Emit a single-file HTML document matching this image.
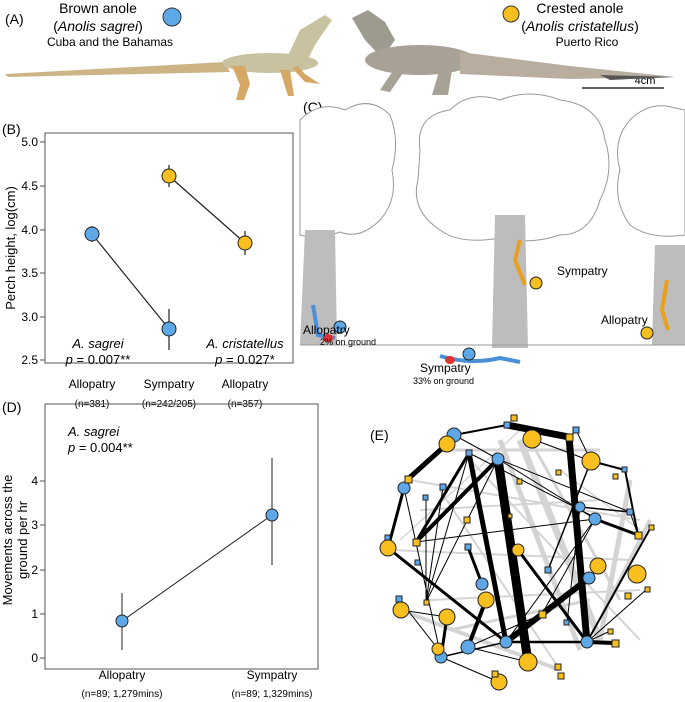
<!DOCTYPE html><html><head><style>body{margin:0;background:#fff}svg{display:block;font-family:"Liberation Sans",sans-serif}</style></head><body>
<svg width="685" height="702" viewBox="0 0 685 702" xmlns="http://www.w3.org/2000/svg">
<!-- Panel A -->
<text x="5" y="24" font-size="14">(A)</text>
<text x="98" y="13" font-size="14" text-anchor="middle">Brown anole</text>
<text x="98" y="31" font-size="14" text-anchor="middle">(<tspan font-style="italic">Anolis sagrei</tspan>)</text>
<text x="110" y="46" font-size="12" text-anchor="middle">Cuba and the Bahamas</text>
<circle cx="172" cy="17" r="9" fill="#5fa8e8" stroke="#333"/>
<circle cx="511" cy="14" r="8" fill="#f8bf1e" stroke="#333"/>
<text x="580" y="13" font-size="14" text-anchor="middle">Crested anole</text>
<text x="580" y="31" font-size="14" text-anchor="middle">(<tspan font-style="italic">Anolis cristatellus</tspan>)</text>
<text x="587" y="46" font-size="12" text-anchor="middle">Puerto Rico</text>
<line x1="582" y1="88" x2="664" y2="88" stroke="#000" stroke-width="1.2"/>
<text x="645" y="84" font-size="11" text-anchor="middle">4cm</text>
<!-- left lizard -->
<g>
<path d="M5 74 L225 62 L230 72 L8 77 Z" fill="#cdb487"/>
<ellipse cx="270" cy="63" rx="48" ry="10" fill="#c8c2a0"/>
<path d="M285 62 L300 30 L325 15 L332 20 L315 45 L305 65 Z" fill="#c8c2a0"/>
<path d="M232 66 L240 85 L236 100 L244 100 L250 84 L245 66Z" fill="#d6a866"/>
<path d="M292 68 L305 82 L320 84 L305 74 L298 66Z" fill="#d6a866"/>
<path d="M280 70 L288 96 L294 96 L290 70Z" fill="#d6a866"/>
</g>
<!-- right lizard -->
<g>
<path d="M352 18 L368 10 L385 22 L395 40 L382 58 L365 40 Z" fill="#9d9a90"/>
<ellipse cx="420" cy="60" rx="55" ry="15" fill="#a8a196"/>
<path d="M460 52 L570 66 L675 77 L570 79 L460 74 Z" fill="#b9ada0"/>
<path d="M600 75 L675 77 L610 80Z" fill="#555"/>
<path d="M395 68 L380 90 L390 92 L405 70Z" fill="#a8a196"/>
<path d="M440 68 L432 95 L448 95 L452 70Z" fill="#a8a196"/>
</g>
<!-- Panel B -->
<text x="2" y="134" font-size="14">(B)</text>
<rect x="45" y="133" width="248" height="230" fill="none" stroke="#555"/>
<g font-size="12" text-anchor="end">
<text x="38" y="146">5.0</text><text x="38" y="190">4.5</text><text x="38" y="234">4.0</text><text x="38" y="277">3.5</text><text x="38" y="321">3.0</text><text x="38" y="364">2.5</text></g>
<g stroke="#555"><line x1="40" y1="142" x2="45" y2="142"/><line x1="40" y1="186" x2="45" y2="186"/><line x1="40" y1="230" x2="45" y2="230"/><line x1="40" y1="273" x2="45" y2="273"/><line x1="40" y1="317" x2="45" y2="317"/><line x1="40" y1="360" x2="45" y2="360"/></g>
<text transform="translate(15,248) rotate(-90)" font-size="13" text-anchor="middle">Perch height, log(cm)</text>
<g stroke="#222" stroke-width="1.2">
<line x1="92" y1="234" x2="169" y2="329"/><line x1="169" y1="176" x2="245" y2="243"/>
<line x1="92" y1="226" x2="92" y2="242"/><line x1="169" y1="309" x2="169" y2="350"/>
<line x1="169" y1="165" x2="169" y2="187"/><line x1="245" y1="231" x2="245" y2="255"/></g>
<circle cx="92" cy="234" r="7" fill="#5fa8e8" stroke="#222"/>
<circle cx="169" cy="329" r="7" fill="#5fa8e8" stroke="#222"/>
<circle cx="169" cy="176" r="7" fill="#f8bf1e" stroke="#222"/>
<circle cx="245" cy="243" r="7" fill="#f8bf1e" stroke="#222"/>
<text x="98" y="348" font-size="13" font-style="italic" text-anchor="middle">A. sagrei</text>
<text x="98" y="364" font-size="13" text-anchor="middle"><tspan font-style="italic">p</tspan> = 0.007**</text>
<text x="245" y="348" font-size="13" font-style="italic" text-anchor="middle">A. cristatellus</text>
<text x="245" y="364" font-size="13" text-anchor="middle"><tspan font-style="italic">p</tspan> = 0.027*</text>
<g font-size="12" text-anchor="middle"><text x="92" y="388">Allopatry</text><text x="169" y="388">Sympatry</text><text x="245" y="388">Allopatry</text></g>
<g font-size="10" text-anchor="middle"><text x="92" y="407">(n=381)</text><text x="169" y="407">(n=242/205)</text><text x="245" y="407">(n=357)</text></g>
<!-- Panel C -->
<text x="303" y="112" font-size="14">(C)</text>
<g fill="#fff" stroke="#999" stroke-width="1">
<path d="M300 120 Q320 100 345 110 Q370 95 390 115 Q400 140 392 170 Q398 200 380 220 Q360 240 340 232 Q320 240 300 235 Z"/>
<path d="M420 150 Q415 115 450 110 Q470 90 500 100 Q530 88 560 100 Q600 105 605 140 Q615 170 600 200 Q590 235 560 235 Q530 245 500 238 Q460 245 440 230 Q410 210 418 180 Z"/>
<path d="M630 120 Q650 100 675 108 L685 110 L685 235 Q650 240 630 225 Q612 200 620 170 Q612 140 630 120Z"/>
</g>
<g fill="#bdbdbd">
<path d="M305 230 L335 230 L337 345 L300 345 Z"/>
<path d="M495 215 L525 215 L528 348 L492 348 Z"/>
<path d="M655 245 L685 245 L685 345 L652 345 Z"/>
</g>
<line x1="300" y1="345" x2="685" y2="345" stroke="#999"/>
<path d="M313 305 L318 335 L335 338" stroke="#4a8fd8" stroke-width="4" fill="none"/>
<ellipse cx="328" cy="338" rx="5" ry="4" fill="#d33"/>
<path d="M440 356 Q470 365 500 358 L520 362" stroke="#4a8fd8" stroke-width="4" fill="none"/>
<ellipse cx="450" cy="360" rx="5" ry="4" fill="#d33"/>
<path d="M520 240 L515 260 L525 285" stroke="#e8a020" stroke-width="4" fill="none"/>
<path d="M667 280 L662 310 L668 330" stroke="#e8a020" stroke-width="4" fill="none"/>
<circle cx="340" cy="327" r="6" fill="#5fa8e8" stroke="#222"/>
<circle cx="469" cy="354" r="6" fill="#5fa8e8" stroke="#222"/>
<circle cx="536" cy="283" r="6" fill="#f8bf1e" stroke="#222"/>
<circle cx="647" cy="333" r="6" fill="#f8bf1e" stroke="#222"/>
<text x="303" y="334" font-size="12">Allopatry</text>
<text x="320" y="345" font-size="9">2% on ground</text>
<text x="557" y="275" font-size="12">Sympatry</text>
<text x="420" y="372" font-size="12">Sympatry</text>
<text x="413" y="384" font-size="9">33% on ground</text>
<text x="601" y="324" font-size="12">Allopatry</text>
<!-- Panel D -->
<text x="2" y="412" font-size="14">(D)</text>
<rect x="45" y="404" width="273" height="265" fill="none" stroke="#555"/>
<g font-size="12" text-anchor="end"><text x="38" y="485">4</text><text x="38" y="529">3</text><text x="38" y="574">2</text><text x="38" y="618">1</text><text x="38" y="662">0</text></g>
<g stroke="#555"><line x1="40" y1="481" x2="45" y2="481"/><line x1="40" y1="525" x2="45" y2="525"/><line x1="40" y1="570" x2="45" y2="570"/><line x1="40" y1="614" x2="45" y2="614"/><line x1="40" y1="658" x2="45" y2="658"/></g>
<text transform="translate(12,540) rotate(-90)" font-size="13" text-anchor="middle">Movements across the</text>
<text transform="translate(27,540) rotate(-90)" font-size="13" text-anchor="middle">ground per hr</text>
<text x="68" y="436" font-size="13" font-style="italic">A. sagrei</text>
<text x="68" y="452" font-size="13"><tspan font-style="italic">p</tspan> = 0.004**</text>
<g stroke="#222" stroke-width="1"><line x1="122" y1="621" x2="272" y2="515"/><line x1="122" y1="593" x2="122" y2="650"/><line x1="272" y1="458" x2="272" y2="565"/></g>
<circle cx="122" cy="621" r="6" fill="#5fa8e8" stroke="#222"/>
<circle cx="272" cy="515" r="6" fill="#5fa8e8" stroke="#222"/>
<g font-size="12" text-anchor="middle"><text x="122" y="679">Allopatry</text><text x="272" y="679">Sympatry</text></g>
<g font-size="10" text-anchor="middle"><text x="122" y="697">(n=89; 1,279mins)</text><text x="272" y="697">(n=89; 1,329mins)</text></g>
<!-- Panel E -->
<text x="370" y="440" font-size="14">(E)</text>
<g stroke="#d4d4d4" fill="none">
<line x1="520" y1="440" x2="600" y2="640" stroke-width="7"/>
<line x1="500" y1="440" x2="580" y2="650" stroke-width="5"/>
<line x1="630" y1="480" x2="600" y2="640" stroke-width="5"/>
<line x1="650" y1="520" x2="610" y2="600" stroke-width="4"/>
<line x1="410" y1="480" x2="640" y2="520" stroke-width="2"/>
<line x1="400" y1="610" x2="560" y2="670" stroke-width="4"/>
<line x1="450" y1="450" x2="600" y2="450" stroke-width="3"/>
<line x1="390" y1="550" x2="630" y2="560" stroke-width="2"/>
<line x1="430" y1="600" x2="640" y2="590" stroke-width="2"/>
<line x1="470" y1="460" x2="640" y2="640" stroke-width="2"/>
<line x1="420" y1="510" x2="600" y2="500" stroke-width="2"/>
<line x1="530" y1="440" x2="620" y2="600" stroke-width="3"/>
<line x1="450" y1="630" x2="590" y2="600" stroke-width="3"/>
<line x1="440" y1="490" x2="560" y2="670" stroke-width="2"/>
<line x1="400" y1="540" x2="520" y2="430" stroke-width="1.5"/>
<line x1="640" y1="530" x2="560" y2="470" stroke-width="1.5"/>
</g>
<g stroke="#000" fill="none" stroke-linecap="round">
<line x1="507" y1="425" x2="569" y2="437" stroke-width="7"/>
<line x1="569" y1="437" x2="587" y2="642" stroke-width="7"/>
<path d="M498 459 L528 662" stroke-width="9"/>
<line x1="447" y1="444" x2="408" y2="479" stroke-width="5"/>
<line x1="408" y1="479" x2="404" y2="488" stroke-width="3"/>
<line x1="404" y1="488" x2="388" y2="548" stroke-width="3"/>
<line x1="498" y1="459" x2="416" y2="542" stroke-width="4"/>
<line x1="469" y1="453" x2="416" y2="542" stroke-width="3"/>
<line x1="469" y1="453" x2="506" y2="642" stroke-width="5"/>
<line x1="486" y1="600" x2="468" y2="647" stroke-width="4"/>
<line x1="506" y1="642" x2="589" y2="578" stroke-width="6"/>
<line x1="587" y1="642" x2="615" y2="643" stroke-width="4"/>
<line x1="506" y1="642" x2="587" y2="642" stroke-width="2.5"/>
<line x1="441" y1="657" x2="506" y2="642" stroke-width="1.5"/>
<line x1="388" y1="548" x2="506" y2="642" stroke-width="3"/>
<line x1="595" y1="519" x2="638" y2="535" stroke-width="3"/>
<line x1="518" y1="550" x2="587" y2="642" stroke-width="3"/>
<line x1="591" y1="461" x2="625" y2="470" stroke-width="2"/>
<line x1="625" y1="470" x2="638" y2="535" stroke-width="2"/>
<line x1="454" y1="435" x2="507" y2="425" stroke-width="2"/>
<line x1="468" y1="547" x2="482" y2="584" stroke-width="3"/>
<line x1="441" y1="657" x2="447" y2="617" stroke-width="3"/>
<line x1="651" y1="527" x2="587" y2="642" stroke-width="2"/>
<line x1="591" y1="461" x2="548" y2="570" stroke-width="1.5"/>
<line x1="580" y1="507" x2="630" y2="512" stroke-width="1.5"/>
</g>
<g stroke="#000" stroke-width="1" fill="none">
<line x1="469" y1="453" x2="426" y2="602"/><line x1="469" y1="453" x2="598" y2="519"/>
<line x1="498" y1="459" x2="630" y2="512"/><line x1="416" y1="542" x2="595" y2="519"/>
<line x1="426" y1="498" x2="426" y2="602"/><line x1="443" y1="487" x2="426" y2="602"/>
<line x1="401" y1="610" x2="447" y2="617"/><line x1="399" y1="599" x2="438" y2="649"/>
<line x1="441" y1="657" x2="499" y2="682"/><line x1="468" y1="647" x2="528" y2="662"/>
<line x1="587" y1="642" x2="647" y2="589"/><line x1="587" y1="642" x2="610" y2="631"/>
<line x1="532" y1="439" x2="591" y2="461"/><line x1="576" y1="430" x2="591" y2="461"/>
<line x1="404" y1="488" x2="441" y2="657"/><line x1="498" y1="459" x2="595" y2="519"/>
<line x1="542" y1="614" x2="595" y2="519"/><line x1="454" y1="435" x2="498" y2="459"/>
<line x1="388" y1="538" x2="388" y2="548"/><line x1="426" y1="602" x2="498" y2="459"/>
<line x1="567" y1="623" x2="580" y2="507"/><line x1="630" y1="512" x2="638" y2="535"/>
<line x1="468" y1="647" x2="542" y2="614"/><line x1="506" y1="642" x2="595" y2="519"/>
</g>
<g stroke="#222" stroke-width="1">
<g fill="#5fa8e8">
<circle cx="454" cy="435" r="7"/><circle cx="404" cy="488" r="6"/><circle cx="498" cy="459" r="6"/><circle cx="580" cy="507" r="5"/><circle cx="595" cy="519" r="6"/><circle cx="482" cy="584" r="6"/><circle cx="589" cy="578" r="6"/><circle cx="468" cy="647" r="7"/><circle cx="506" cy="642" r="6"/><circle cx="587" cy="642" r="6"/><circle cx="441" cy="657" r="6"/>
</g>
<g fill="#f8bf1e">
<circle cx="447" cy="444" r="8"/><circle cx="532" cy="439" r="9"/><circle cx="591" cy="461" r="9"/><circle cx="388" cy="548" r="8"/><circle cx="518" cy="550" r="6"/><circle cx="598" cy="566" r="8"/><circle cx="637" cy="574" r="9"/><circle cx="486" cy="600" r="8"/><circle cx="401" cy="610" r="8"/><circle cx="447" cy="617" r="8"/><circle cx="438" cy="649" r="6"/><circle cx="528" cy="662" r="9"/><circle cx="499" cy="682" r="8"/>
</g>
<g fill="#5fa8e8">
<rect x="504" y="422" width="6" height="6"/><rect x="573" y="427" width="6" height="6"/><rect x="466" y="450" width="6" height="6"/><rect x="440" y="484" width="6" height="6"/><rect x="423" y="495" width="5" height="5"/><rect x="622" y="467" width="5" height="5"/><rect x="627" y="509" width="6" height="6"/><rect x="385" y="535" width="5" height="5"/><rect x="415" y="560" width="5" height="5"/><rect x="465" y="544" width="6" height="6"/><rect x="545" y="567" width="6" height="6"/><rect x="396" y="596" width="6" height="6"/><rect x="564" y="620" width="5" height="5"/>
</g>
<g fill="#f8bf1e">
<rect x="511" y="415" width="6" height="6"/><rect x="566" y="434" width="7" height="7"/><rect x="405" y="476" width="7" height="7"/><rect x="556" y="470" width="5" height="5"/><rect x="517" y="479" width="5" height="5"/><rect x="613" y="474" width="5" height="5"/><rect x="464" y="517" width="6" height="6"/><rect x="508" y="514" width="4" height="4"/><rect x="413" y="539" width="7" height="7"/><rect x="635" y="532" width="7" height="7"/><rect x="649" y="525" width="5" height="5"/><rect x="645" y="587" width="5" height="5"/><rect x="625" y="593" width="6" height="6"/><rect x="424" y="600" width="5" height="5"/><rect x="539" y="611" width="7" height="7"/><rect x="608" y="629" width="5" height="5"/><rect x="612" y="640" width="7" height="7"/><rect x="555" y="664" width="6" height="6"/><rect x="558" y="673" width="6" height="6"/><rect x="492" y="671" width="6" height="6"/>
</g>
</g>
</svg>
</body></html>
